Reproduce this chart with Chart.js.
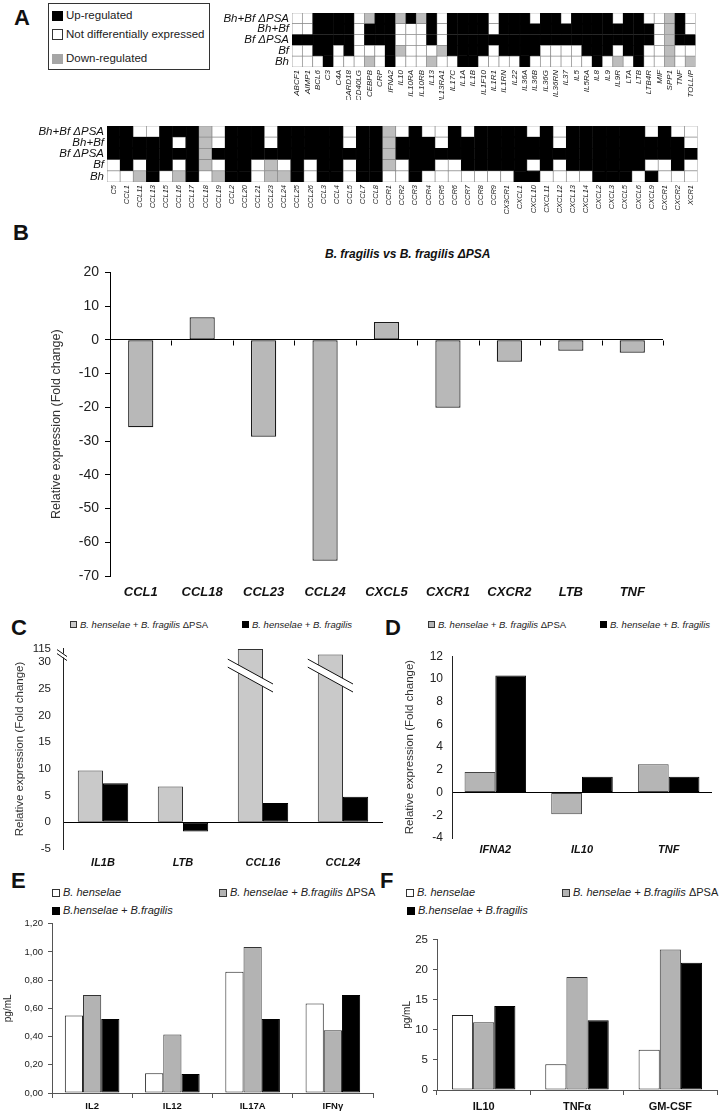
<!DOCTYPE html>
<html>
<head>
<meta charset="utf-8">
<title>Figure</title>
<script src="https://cdn.jsdelivr.net/npm/chart.js@4.4.1/dist/chart.umd.min.js"></script>
<style>
body { margin: 0; background: #fff; }
#page { position: relative; width: 720px; height: 1114px; overflow: hidden; font-family: "Liberation Sans", Arial, sans-serif; color: #111; }
.box { position: absolute; }
.tag { position: absolute; font-size: 22px; font-weight: bold; line-height: 1; }
.key { position: absolute; display: flex; align-items: center; white-space: nowrap; font-style: italic; color: #222; line-height: 1; }
.key .up { font-style: normal; }
.sq { display: inline-block; box-sizing: border-box; border: 1px solid #333; margin-right: 3px; }
</style>
</head>
<body>
<div id="page">
  <div class="tag" style="left:14px;top:7px">A</div>
  <div class="tag" style="left:13px;top:222px">B</div>
  <div class="tag" style="left:11px;top:617px">C</div>
  <div class="tag" style="left:385px;top:617px">D</div>
  <div class="tag" style="left:11px;top:870px">E</div>
  <div class="tag" style="left:380px;top:870px">F</div>

  <!-- legend of the heatmaps -->
  <div class="box" style="left:48px;top:3px;width:160px;height:65px;border:1px solid #333"></div>
  <div class="key" style="left:52px;top:10px;font-size:11.5px;font-style:normal"><span class="sq" style="width:11px;height:10px;background:#000;border-color:#000"></span>Up-regulated</div>
  <div class="key" style="left:52px;top:29px;font-size:11.5px;font-style:normal"><span class="sq" style="width:11px;height:11px;background:#fff"></span>Not differentially expressed</div>
  <div class="key" style="left:52px;top:53px;font-size:11.5px;font-style:normal"><span class="sq" style="width:11px;height:10px;background:#a6a6a6;border-color:#a6a6a6"></span>Down-regulated</div>

  <div class="box" style="left:180px;top:3px;width:523px;height:97px"><canvas id="hmTop"></canvas></div>
  <div class="box" style="left:0px;top:116px;width:703px;height:101px"><canvas id="hmBottom"></canvas></div>

  <div class="box" style="left:325px;top:247px;font:bold italic 12px 'Liberation Sans',Arial,sans-serif;white-space:nowrap">B. fragilis vs B. fragilis ΔPSA</div>
  <div class="box" style="left:0px;top:258px;width:670px;height:345px"><canvas id="chartB"></canvas></div>

  <div class="key" style="left:70px;top:620px;font-size:9.5px"><span class="sq" style="width:7px;height:7px;background:#c9c9c9"></span>B. henselae + B. fragilis&nbsp;<span class="up">ΔPSA</span></div>
  <div class="key" style="left:242px;top:620px;font-size:9.5px"><span class="sq" style="width:7px;height:7px;background:#000;border-color:#000"></span>B. henselae + B. fragilis</div>
  <div class="box" style="left:0px;top:630px;width:385px;height:245px"><canvas id="chartC"></canvas></div>

  <div class="key" style="left:428px;top:620px;font-size:9.5px"><span class="sq" style="width:7px;height:7px;background:#b5b5b5"></span>B. henselae + B. fragilis&nbsp;<span class="up">ΔPSA</span></div>
  <div class="key" style="left:600px;top:620px;font-size:9.5px"><span class="sq" style="width:7px;height:7px;background:#000;border-color:#000"></span>B. henselae + B. fragilis</div>
  <div class="box" style="left:385px;top:640px;width:330px;height:225px"><canvas id="chartD"></canvas></div>

  <div class="key" style="left:52px;top:887px;font-size:11px"><span class="sq" style="width:8px;height:8px;background:#fff"></span>B. henselae</div>
  <div class="key" style="left:219px;top:887px;font-size:11px"><span class="sq" style="width:8px;height:8px;background:#b3b3b3"></span>B. henselae + B.fragilis&nbsp;<span class="up">ΔPSA</span></div>
  <div class="key" style="left:52px;top:905px;font-size:11px"><span class="sq" style="width:8px;height:8px;background:#000;border-color:#000"></span>B.henselae + B.fragilis</div>
  <div class="box" style="left:0px;top:913px;width:376px;height:201px"><canvas id="chartE"></canvas></div>

  <div class="key" style="left:406px;top:887px;font-size:11px"><span class="sq" style="width:8px;height:8px;background:#fff"></span>B. henselae</div>
  <div class="key" style="left:562px;top:887px;font-size:11px"><span class="sq" style="width:8px;height:8px;background:#b3b3b3"></span>B. henselae + B.fragilis&nbsp;<span class="up">ΔPSA</span></div>
  <div class="key" style="left:407px;top:905px;font-size:11px"><span class="sq" style="width:8px;height:8px;background:#000;border-color:#000"></span>B.henselae + B.fragilis</div>
  <div class="box" style="left:395px;top:928px;width:325px;height:186px"><canvas id="chartF"></canvas></div>
</div>

<script>
// ---------- A: heatmaps (1 = up-regulated, 0 = not changed, -1 = down-regulated)
const rowNames = ['Bh+Bf ΔPSA', 'Bh+Bf', 'Bf ΔPSA', 'Bf', 'Bh'];

const genesTop = ['ABCF1', 'AIMP1', 'BCL6', 'C3', 'C4A', 'CARD18', 'CD40LG', 'CEBPB', 'CRP', 'IFNA2',
  'IL10', 'IL10RA', 'IL10RB', 'IL13', 'IL13RA1', 'IL17C', 'IL1A', 'IL1B', 'IL1F10', 'IL1R1',
  'IL1RN', 'IL22', 'IL36A', 'IL36B', 'IL36G', 'IL36RN', 'IL37', 'IL5', 'IL5RA', 'IL8',
  'IL9', 'IL9R', 'LTA', 'LTB', 'LTB4R', 'MIF', 'SPP1', 'TNF', 'TOLLIP'];
const topBhBfDpsa = [0,0,1,1,1,1,0,-1,1,1, -1,1,-1,1,0,1,1,1,1,0, 1,1,1,0,1,1,0,1,1,1, 1,0,1,1,0,0,-1,1,0];
const topBhBf     = [0,0,1,1,1,1,0,1,1,1, 0,0,0,1,0,1,1,1,1,0, 1,1,1,1,1,1,1,1,1,1, 1,1,1,1,1,0,-1,1,0];
const topBfDpsa   = [1,1,1,1,1,1,0,1,1,1, 0,0,0,1,0,1,1,1,1,1, 1,1,1,1,1,1,1,1,1,1, 1,1,1,1,1,0,-1,1,1];
const topBf       = [0,0,1,1,0,1,0,0,0,1, -1,0,0,0,-1,1,1,1,1,0, 1,1,1,1,0,0,0,0,1,1, 1,0,1,1,0,0,-1,0,0];
const topBh       = [0,0,0,1,0,0,0,-1,0,1, 0,0,0,-1,0,0,1,1,0,0, 0,0,1,0,0,0,0,0,0,1, 0,-1,0,1,0,0,-1,0,-1];

const genesBottom = ['C5', 'CCL1', 'CCL11', 'CCL13', 'CCL15', 'CCL16', 'CCL17', 'CCL18', 'CCL19', 'CCL2',
  'CCL20', 'CCL21', 'CCL23', 'CCL24', 'CCL25', 'CCL26', 'CCL3', 'CCL4', 'CCL5', 'CCL7',
  'CCL8', 'CCR1', 'CCR2', 'CCR3', 'CCR4', 'CCR5', 'CCR6', 'CCR7', 'CCR8', 'CCR9',
  'CX3CR1', 'CXCL1', 'CXCL10', 'CXCL11', 'CXCL12', 'CXCL13', 'CXCL14', 'CXCL2', 'CXCL3', 'CXCL5',
  'CXCL6', 'CXCL9', 'CXCR1', 'CXCR2', 'XCR1'];
const botBhBfDpsa = [1,1,0,0,1,1,1,-1,0,1, 1,1,0,1,1,1,1,1,0,1, 1,-1,0,1,0,0,1,0,1,1, 1,1,0,1,0,1,1,1,1,1, 1,0,1,0,0];
const botBhBf     = [1,1,1,1,1,0,1,-1,0,1, 1,1,0,1,1,1,1,1,0,1, 1,-1,1,1,1,0,1,1,1,1, 1,1,1,1,0,1,1,1,1,1, 1,1,1,1,0];
const botBfDpsa   = [1,1,1,1,1,1,1,-1,1,1, 1,1,1,1,1,1,1,1,1,1, 1,-1,1,1,1,1,1,1,1,1, 1,1,1,1,1,1,1,1,1,1, 1,1,1,1,1];
const botBf       = [0,1,0,1,1,0,1,-1,0,1, 1,0,-1,0,1,0,1,1,0,1, 1,-1,0,1,1,0,0,1,1,1, 1,1,0,1,0,1,1,1,1,1, 1,0,0,1,0];
const botBh       = [0,0,-1,1,0,-1,1,0,-1,1, 1,0,-1,-1,1,0,1,1,0,1, 1,0,0,1,0,0,0,0,0,0, 0,1,1,0,0,0,0,1,1,1, 0,1,0,0,0];

// ---------- B
const genesB = ['CCL1', 'CCL18', 'CCL23', 'CCL24', 'CXCL5', 'CXCR1', 'CXCR2', 'LTB', 'TNF'];
const foldB = [-25.9, 6.7, -28.7, -65.5, 5.3, -20.1, -6.5, -3.2, -3.8];

// ---------- C (axis broken above 30)
const genesC = ['IL1B', 'LTB', 'CCL16', 'CCL24'];
const foldCdpsa = [9.7, 6.7, 115, 80];
const foldCwild = [7.3, -1.7, 3.6, 4.8];
const ticksC = [-5, 0, 5, 10, 15, 20, 25, 30, 115];

// ---------- D
const genesD = ['IFNA2', 'IL10', 'TNF'];
const foldDdpsa = [1.8, -1.9, 2.5];
const foldDwild = [10.3, 1.4, 1.4];

// ---------- E
const cytoE = ['IL2', 'IL12', 'IL17A', 'IFNγ'];
const eBh = [0.55, 0.14, 0.86, 0.635];
const eBhBfDpsa = [0.695, 0.415, 1.035, 0.445];
const eBhBf = [0.525, 0.135, 0.525, 0.695];

// ---------- F
const cytoF = ['IL10', 'TNFα', 'GM-CSF'];
const fBh = [12.5, 4.3, 6.7];
const fBhBfDpsa = [11.3, 18.8, 23.4];
const fBhBf = [14.0, 11.6, 21.2];

Chart.defaults.font.family = '"Liberation Sans", Arial, sans-serif';
Chart.defaults.color = '#111';
Chart.defaults.animation = false;
Chart.defaults.maintainAspectRatio = false;
Chart.defaults.plugins.legend.display = false;
Chart.defaults.plugins.tooltip.enabled = false;

const cellFill = { '1': '#000', '0': '#fff', '-1': '#bdbdbd' };

function heatmap(id, genes, rowsBottomUp, colFont, rowAxisWidth, colAxisHeight) {
  new Chart(document.getElementById(id), {
    type: 'bar',
    data: {
      labels: genes,
      datasets: rowsBottomUp.map(states => ({
        data: states.map(() => 1),
        backgroundColor: states.map(s => cellFill[s]),
        borderColor: states.map(s => s === 1 ? '#000' : '#8a8a8a'),
        borderWidth: 0.7,
        borderSkipped: false,
        barPercentage: 1,
        categoryPercentage: 1,
      })),
    },
    options: {
      layout: { padding: 0 },
      scales: {
        x: {
          stacked: true,
          grid: { display: false, drawTicks: false },
          border: { display: false },
          ticks: { autoSkip: false, minRotation: 90, maxRotation: 90, padding: 3, color: '#222',
                   font: { size: colFont, style: 'italic' } },
          afterFit: s => { s.height = colAxisHeight; },
        },
        y: {
          stacked: true, min: 0, max: 5,
          grid: { display: false, drawTicks: false },
          border: { display: false },
          afterBuildTicks: s => { s.ticks = [0.5, 1.5, 2.5, 3.5, 4.5].map(v => ({ value: v })); },
          ticks: { autoSkip: false, padding: 3, font: { size: 11.5, style: 'italic' },
                   callback: v => rowNames[4 - Math.floor(v)] },
          afterFit: s => { s.width = rowAxisWidth; },
        },
      },
    },
  });
}

heatmap('hmTop', genesTop, [topBh, topBf, topBfDpsa, topBhBf, topBhBfDpsa], 8, 112, 33);
heatmap('hmBottom', genesBottom, [botBh, botBf, botBfDpsa, botBhBf, botBhBfDpsa], 7.5, 107, 35);

// zero line only, black
const zeroGrid = c => (c.tick && c.tick.value === 0 ? '#000' : 'rgba(0,0,0,0)');

// small ticks hanging under the zero line at category boundaries (panel B)
const zeroTicks = {
  id: 'zeroTicks',
  afterDatasetsDraw(chart) {
    const { ctx, scales: { x, y } } = chart;
    const y0 = Math.round(y.getPixelForValue(0)) + 0.5;
    ctx.save();
    ctx.strokeStyle = '#000';
    ctx.lineWidth = 1;
    ctx.beginPath();
    for (let i = 0; i <= x.ticks.length; i++) {
      const px = Math.round(x.getPixelForValue(i - 0.5)) + 0.5;
      ctx.moveTo(px, y0);
      ctx.lineTo(px, y0 + 5);
    }
    ctx.stroke();
    ctx.restore();
  },
};

new Chart(document.getElementById('chartB'), {
  type: 'bar',
  data: {
    labels: genesB,
    datasets: [{
      data: foldB,
      backgroundColor: '#b8b8b8',
      borderColor: '#1a1a1a',
      borderWidth: 1.2,
      borderSkipped: false,
      categoryPercentage: 0.82,
      barPercentage: 0.5,
    }],
  },
  options: {
    layout: { padding: { top: 5, right: 7 } },
    scales: {
      x: {
        grid: { display: false, drawTicks: false },
        border: { display: false },
        ticks: { padding: 9, font: { size: 13, style: 'italic', weight: 'bold' } },
        afterFit: s => { s.height = 27; },
      },
      y: {
        min: -70, max: 20,
        ticks: { stepSize: 10, padding: 6, font: { size: 14 }, color: '#222' },
        grid: { color: zeroGrid, tickColor: '#000', tickLength: 5 },
        border: { color: '#000' },
        title: { display: true, text: 'Relative expression (Fold change)', color: '#333',
                 font: { size: 12.5 }, padding: { top: 49 } },
        afterFit: s => { s.width = 110; },
      },
    },
  },
  plugins: [zeroTicks],
});

// ---------- linear scale with a compressed segment above BREAK_FROM
const BREAK_FROM = 30, BREAK_TOP = 115, BREAK_ROOM = 2.5, BAND_AT = 27.5;
class BrokenScale extends Chart.LinearScale {
  getPixelForValue(value) {
    if (value > BREAK_FROM) {
      value = BREAK_FROM + (value - BREAK_FROM) / (BREAK_TOP - BREAK_FROM) * BREAK_ROOM;
    }
    return super.getPixelForValue(value);
  }
}
BrokenScale.id = 'broken';
BrokenScale.defaults = {};
Chart.register(BrokenScale);

const breakMarks = {
  id: 'breakMarks',
  afterDatasetsDraw(chart) {
    const { ctx, scales: { x, y } } = chart;
    const yc = y.getPixelForValue(BAND_AT);
    ctx.save();
    ctx.lineWidth = 1;
    ctx.strokeStyle = '#111';
    chart.getDatasetMeta(0).data.forEach((bar, i) => {
      if (foldCdpsa[i] <= BREAK_FROM) return;
      const x0 = bar.x - bar.width / 2 - 10, x1 = bar.x + bar.width / 2 + 10;
      const rise = (x1 - x0) * 0.55;
      const a = yc - rise / 2 - 4, b = yc + rise / 2 - 4;
      ctx.fillStyle = '#fff';
      ctx.beginPath();
      ctx.moveTo(x0, a); ctx.lineTo(x1, b); ctx.lineTo(x1, b + 8); ctx.lineTo(x0, a + 8);
      ctx.closePath();
      ctx.fill();
      ctx.beginPath();
      ctx.moveTo(x0, a); ctx.lineTo(x1, b);
      ctx.moveTo(x0, a + 8); ctx.lineTo(x1, b + 8);
      ctx.stroke();
    });
    const ax = x.left;
    const yb = (y.getPixelForValue(BREAK_FROM) + y.getPixelForValue(BREAK_TOP)) / 2;
    ctx.fillStyle = '#fff';
    ctx.fillRect(ax - 2, yb - 2, 4, 4);
    ctx.beginPath();
    ctx.moveTo(ax - 6, yb - 6); ctx.lineTo(ax + 4, yb + 1);
    ctx.moveTo(ax - 6, yb - 2); ctx.lineTo(ax + 4, yb + 5);
    ctx.stroke();
    ctx.restore();
  },
};

new Chart(document.getElementById('chartC'), {
  type: 'bar',
  data: {
    labels: genesC,
    datasets: [
      { data: foldCdpsa, backgroundColor: '#c9c9c9', borderColor: '#333', borderWidth: 1, borderSkipped: false },
      { data: foldCwild, backgroundColor: '#000', borderColor: '#000', borderWidth: 1, borderSkipped: false },
    ],
  },
  options: {
    layout: { padding: { top: 7, right: 2 } },
    datasets: { bar: { categoryPercentage: 0.63, barPercentage: 1 } },
    scales: {
      x: {
        grid: { display: false, drawTicks: false },
        border: { display: false },
        ticks: { padding: 7, font: { size: 11, style: 'italic', weight: 'bold' } },
        afterFit: s => { s.height = 26; },
      },
      y: {
        type: 'broken', min: -5, max: 32.5,
        afterBuildTicks: s => { s.ticks = ticksC.map(v => ({ value: v })); },
        ticks: { autoSkip: false, padding: 12, font: { size: 11.5 }, color: '#222' },
        grid: { color: zeroGrid, drawTicks: false },
        border: { color: '#222' },
        title: { display: true, text: 'Relative expression (Fold change)', color: '#333',
                 font: { size: 11.5 }, padding: { top: 13 } },
        afterFit: s => { s.width = 63; },
      },
    },
  },
  plugins: [breakMarks],
});

new Chart(document.getElementById('chartD'), {
  type: 'bar',
  data: {
    labels: genesD,
    datasets: [
      { data: foldDdpsa, backgroundColor: '#b5b5b5', borderColor: '#444', borderWidth: 1, borderSkipped: false },
      { data: foldDwild, backgroundColor: '#000', borderColor: '#000', borderWidth: 1, borderSkipped: false },
    ],
  },
  options: {
    layout: { padding: { top: 5, right: 3 } },
    datasets: { bar: { categoryPercentage: 0.71, barPercentage: 1 } },
    scales: {
      x: {
        grid: { display: false, drawTicks: false },
        border: { display: false },
        ticks: { padding: 5, font: { size: 11, style: 'italic', weight: 'bold' } },
        afterFit: s => { s.height = 27; },
      },
      y: {
        min: -4, max: 12,
        ticks: { stepSize: 2, padding: 9, font: { size: 12 }, color: '#222' },
        grid: { color: zeroGrid, drawTicks: false },
        border: { color: '#222' },
        title: { display: true, text: 'Relative expression (Fold change)', color: '#333',
                 font: { size: 11.5 }, padding: { top: 18 } },
        afterFit: s => { s.width = 67; },
      },
    },
  },
});

function cytokineChart(id, labels, series, yOpts, yWidth, xHeight, titlePad, labelFont, pad) {
  new Chart(document.getElementById(id), {
    type: 'bar',
    data: {
      labels: labels,
      datasets: [
        { data: series[0], backgroundColor: '#fff', borderColor: '#222', borderWidth: 1, borderSkipped: false },
        { data: series[1], backgroundColor: '#b3b3b3', borderColor: '#333', borderWidth: 1, borderSkipped: false },
        { data: series[2], backgroundColor: '#000', borderColor: '#000', borderWidth: 1, borderSkipped: false },
      ],
    },
    options: {
      layout: { padding: { top: 5, right: 3 } },
      datasets: { bar: { categoryPercentage: 0.68, barPercentage: 1 } },
      scales: {
        x: {
          grid: { offset: true, drawOnChartArea: false, tickLength: 5, color: '#555' },
          border: { color: '#555' },
          ticks: { padding: pad, font: { size: labelFont, weight: 'bold' } },
          afterFit: s => { s.height = xHeight; },
        },
        y: Object.assign({
          grid: { drawOnChartArea: false, tickLength: 4, color: '#555' },
          border: { color: '#555' },
          title: { display: true, text: 'pg/mL', color: '#222', font: { size: 10 }, padding: { top: titlePad } },
          afterFit: s => { s.width = yWidth; },
        }, yOpts),
      },
    },
  });
}

cytokineChart('chartE', cytoE, [eBh, eBhBfDpsa, eBhBf], {
  min: 0, max: 1.2,
  ticks: { stepSize: 0.2, padding: 5, font: { size: 9.5 }, color: '#222',
           callback: v => v.toFixed(2).replace('.', ',') },
}, 52, 21, 2, 9.5, 3);

cytokineChart('chartF', cytoF, [fBh, fBhBfDpsa, fBhBf], {
  min: 0, max: 25,
  ticks: { stepSize: 5, padding: 5, font: { size: 11.5 }, color: '#222' },
}, 42, 24, 6, 11, 5);
</script>
</body>
</html>
